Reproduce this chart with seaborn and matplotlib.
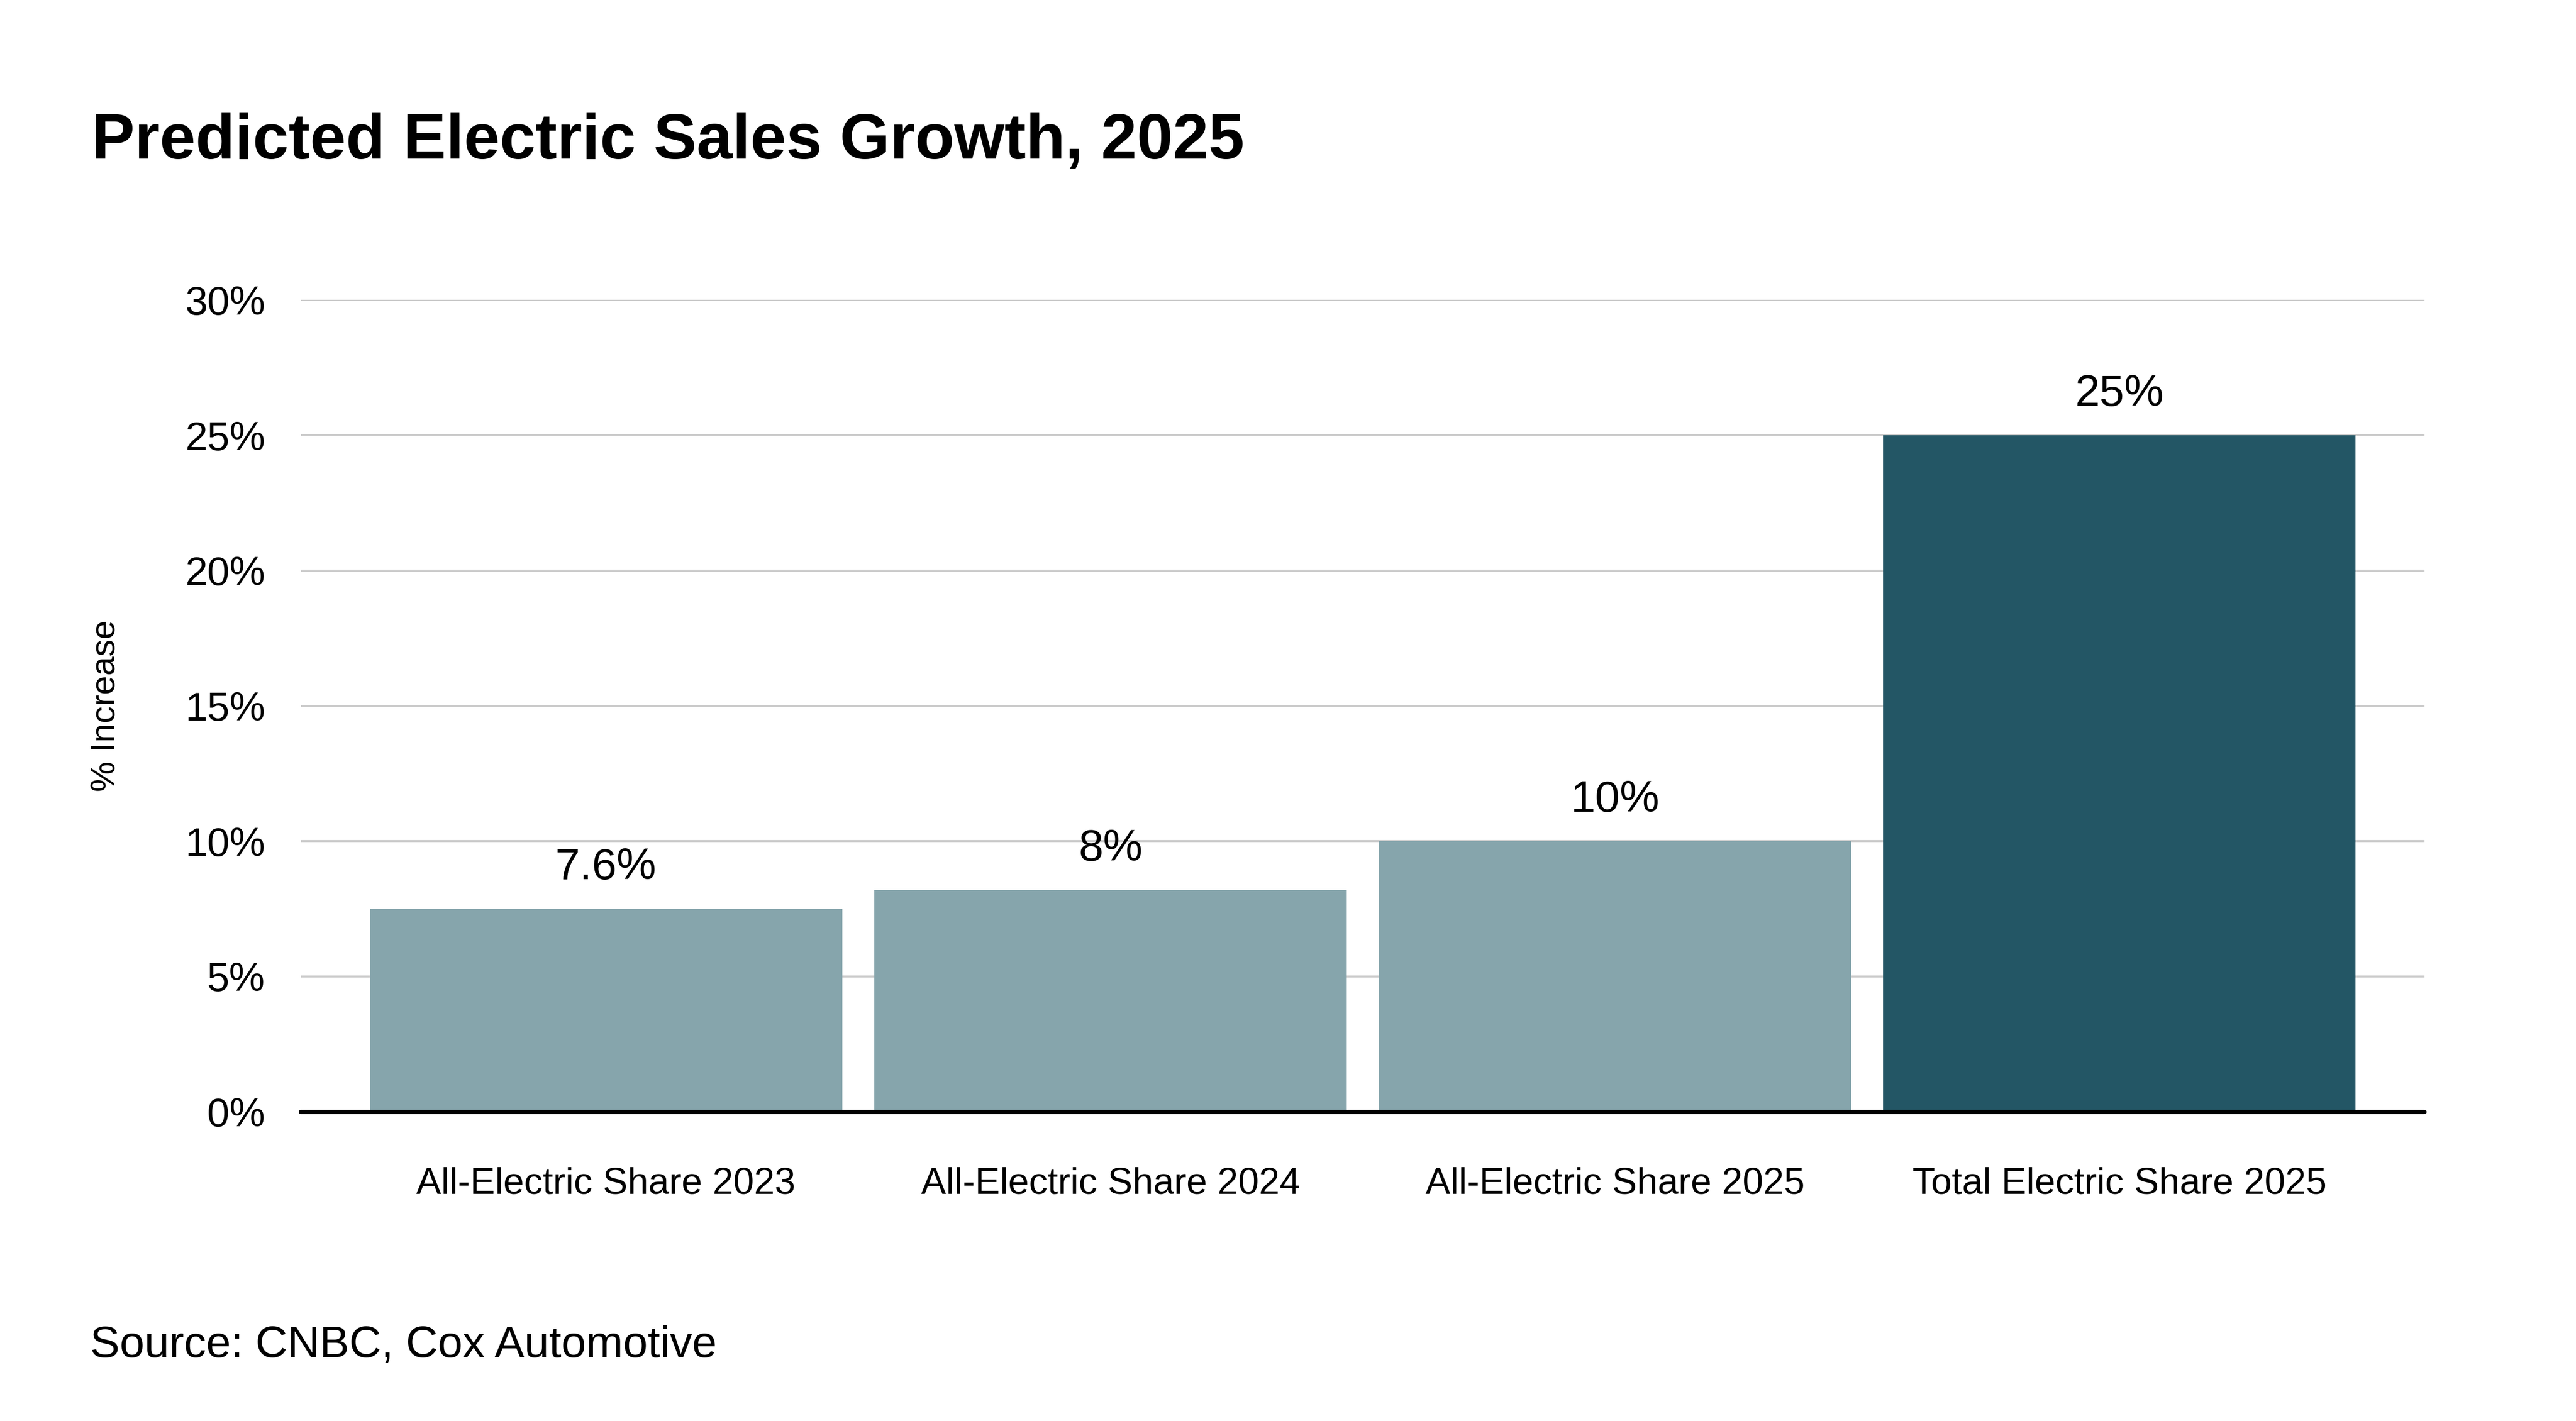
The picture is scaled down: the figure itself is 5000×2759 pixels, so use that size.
import matplotlib
matplotlib.use('Agg')
import matplotlib.pyplot as plt
import pandas as pd
import seaborn as sns

# chart data
categories = ['All-Electric Share 2023', 'All-Electric Share 2024',
              'All-Electric Share 2025', 'Total Electric Share 2025']
values = [7.5, 8.2, 10, 25]
value_labels = ['7.6%', '8%', '10%', '25%']
bar_colors = ['#86a5ac', '#86a5ac', '#86a5ac', '#235665']
y_ticks = [0, 5, 10, 15, 20, 25, 30]

df = pd.DataFrame({'category': categories, 'value': values})

sns.set_theme(style='white')
plt.rcParams['font.family'] = ['Liberation Sans', 'DejaVu Sans']

fig = plt.figure(figsize=(50, 27.59), dpi=100)
ax = fig.add_axes([0.1168, 0.2176, 0.8244, 0.5713])

sns.barplot(data=df, x='category', y='value', hue='category',
            palette=bar_colors, legend=False, saturation=1,
            width=0.937, linewidth=0, ax=ax)

ax.set_xlim(-0.605, 3.605)
ax.set_ylim(0, 30)
ax.set_yticks(y_ticks)
ax.set_yticklabels([f'{t}%' for t in y_ticks])
ax.tick_params(axis='y', length=0, pad=50, labelsize=56, labelcolor='black')
ax.tick_params(axis='x', length=0, pad=77, labelsize=52, labelcolor='black')

ax.yaxis.grid(True, color='#cccccc', linewidth=2.9)
ax.xaxis.grid(False)
ax.set_axisbelow(True)
for s in ax.spines.values():
    s.set_visible(False)
ax.axhline(0, color='black', linewidth=6, zorder=5, clip_on=False)

for i, (v, lab) in enumerate(zip(values, value_labels)):
    ax.annotate(lab, (i, v), xytext=(0, 57), textcoords='offset points',
                ha='center', va='center', fontsize=62, color='black')

ax.set_xlabel('')
ax.set_ylabel('% Increase', fontsize=48, color='black', va='center')
ax.yaxis.set_label_coords(-0.0915, 0.5)

fig.text(0.0356, 0.8887, 'Predicted Electric Sales Growth, 2025',
         fontsize=90, fontweight='bold', color='black', va='baseline')
fig.text(0.035, 0.0449, 'Source: CNBC, Cox Automotive',
         fontsize=62, color='black', va='baseline')

fig.savefig('out.png', dpi=100, facecolor='white')
